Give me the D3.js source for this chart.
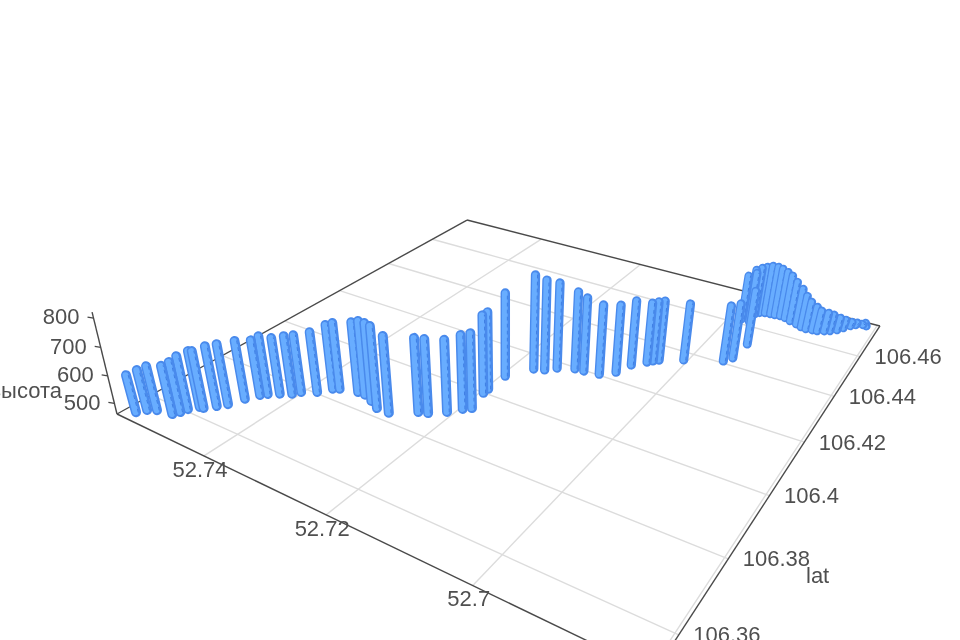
<!DOCTYPE html>
<html><head><meta charset="utf-8">
<script src="https://cdn.jsdelivr.net/npm/d3@7"></script>
<style>html,body{margin:0;background:#fff}svg{display:block}text{font-family:"Liberation Sans",Arial,sans-serif;fill:#505050}</style></head><body>
<svg id="c" width="960" height="640"></svg>
<script>
const lons=[52.7543,52.7535,52.7524,52.75,52.7495,52.7492,52.7483,52.7477,52.7466,52.7457,52.7448,52.7438,52.7431,
52.7418,52.7404,52.7397,52.7379,52.7367,52.7359,52.7333,52.7321,52.7304,52.7287,52.7267,52.7236,52.7224,
52.7205,52.7192,52.7183,52.7191,52.7191,52.719,52.7167,52.7153,52.7141,52.7119,52.7106,52.7084,52.7067,
52.7058,52.7043,52.7037,52.7031,52.7002,52.6954,52.6946,52.6978,52.6943,52.6965,52.6973,52.6967,52.6962,
52.6955,52.6947,52.694,52.6932,52.6924,52.6914,52.6903,52.6894,52.6886,52.6877,52.687,52.6861,52.6854,
52.6846,52.684,52.6833,52.6827,52.682,52.6816];
const lats=[106.3532,106.355,106.3561,106.3569,106.3583,106.3599,106.3618,106.362,106.364,106.3658,106.3692,106.372,
106.3732,106.3747,106.3761,106.3777,106.3796,106.3824,106.3832,106.3844,106.3844,106.3833,106.3819,106.3819,
106.3855,106.3863,106.3888,106.3915,106.3928,106.3989,106.4008,106.4072,106.4132,106.4142,106.4164,106.4183,
106.4186,106.4193,106.4221,106.4267,106.4298,106.431,106.4321,106.4352,106.4397,106.4422,106.4611,106.45,
106.4606,106.464,106.4653,106.4665,106.4672,106.4674,106.4675,106.4677,106.4674,106.4665,106.4658,106.465,
106.4647,106.465,106.4652,106.4661,106.4669,106.4683,106.4701,106.472,106.4733,106.4746,106.4756];
const heights=[617,628,642,656,663,674,685,688,699,700,694,684,695,688,695,692,703,718,725,738,751,763,774,755,746,745,739,746,750,765,
763,789,830,815,799,770,755,740,733,725,707,708,708,697,693,690,659,690,681,668,672,672,676,676,672,663,655,642,626,609,
593,577,565,557,549,533,517,501,493,481,472];
const lonTicks=[52.74,52.72,52.7];
const latTicks=[106.36,106.38,106.4,106.42,106.44,106.46];
const zTicks=[500,600,700,800];
const floorZ=460, topZ=820;

// camera: projective map of the unit box
const a=341.3,b=566.7,c=117,d=57.6,e=-91.9,f=414,g=-0.2992,h=0.4640,k=-0.0604,i=505*k,j=2000*k;
const lonS=d3.scaleLinear().domain([52.7566,52.6798]).range([0,1]);
const latS=d3.scaleLinear().domain([106.3513,106.4775]).range([0,1]);
const zS=d3.scaleLinear().domain([floorZ,topZ]).range([0,1]);
const lonD=lonS.domain(),latD=latS.domain();
function depth(lon,lat,z){return g*lonS(lon)+h*latS(lat)+1+k*zS(z);}
function proj(lon,lat,z){const u=lonS(lon),v=latS(lat),w=zS(z),q=depth(lon,lat,z);
  return [(a*u+b*v+c+i*w)/q,(d*u+e*v+f+j*w)/q];}

const svg=d3.select("#c");
const defs=svg.append("defs");
defs.append("filter").attr("id","soft").attr("x","-5%").attr("y","-5%").attr("width","110%").attr("height","110%")
  .append("feGaussianBlur").attr("stdDeviation",0.75);
const root=svg.append("g").attr("filter","url(#soft)");
const line=(p,q,col,w)=>root.append("line").attr("x1",p[0]).attr("y1",p[1]).attr("x2",q[0]).attr("y2",q[1]).attr("stroke",col).attr("stroke-width",w);

// grid
lonTicks.forEach(t=>line(proj(t,latD[0],floorZ),proj(t,latD[1],floorZ),"#dcdcdc",1.4));
latTicks.forEach(t=>line(proj(lonD[0],t,floorZ),proj(lonD[1],t,floorZ),"#dcdcdc",1.4));
line(proj(52.6802,latD[0],floorZ),proj(52.6802,latD[1],floorZ),"#dcdcdc",1.4);
// box edges
const A=proj(lonD[0],latD[0],floorZ),B=proj(lonD[0],latD[1],floorZ),C=proj(lonD[1],latD[1],floorZ),D=proj(lonD[1],latD[0],floorZ);
[[A,B],[B,C],[C,D],[D,A]].forEach(([p,q])=>line(p,q,"#4a4a4a",1.4));
const ztop=proj(lonD[0],latD[0],topZ);
line(A,ztop,"#4a4a4a",1.4);
// ticks and labels
const fs=22;
zTicks.forEach(t=>{const p=proj(lonD[0],latD[0],t);
  line(p,[p[0]-6,p[1]-1],"#4a4a4a",1.2);
  root.append("text").attr("x",p[0]-14).attr("y",p[1]-1.5).attr("dy","0.36em").attr("text-anchor","end").attr("font-size",fs).text(t);});
lonTicks.forEach(t=>{const p=proj(t,latD[0],floorZ);
  root.append("text").attr("x",p[0]-4).attr("y",p[1]+13).attr("dy","0.36em").attr("text-anchor","middle").attr("font-size",fs).text(t);});
latTicks.forEach(t=>{const p=proj(lonD[1],t,floorZ);
  root.append("text").attr("x",p[0]+14.5).attr("y",p[1]-0.5).attr("dy","0.36em").attr("text-anchor","start").attr("font-size",fs).text(t);});
root.append("text").attr("x",62).attr("y",390).attr("dy","0.36em").attr("text-anchor","end").attr("font-size",22).text("высота");
root.append("text").attr("x",806).attr("y",575.5).attr("dy","0.36em").attr("text-anchor","start").attr("font-size",22).text("lat");

// tubes, far to near
const bars=d3.range(lons.length).map(n=>({lon:lons[n],lat:lats[n],z:heights[n]}))
  .sort((p,q)=>depth(q.lon,q.lat,floorZ)-depth(p.lon,p.lat,floorZ));
const tube=root.append("g").attr("stroke-linecap","round");
bars.forEach(m=>{
  const p=proj(m.lon,m.lat,floorZ),q=proj(m.lon,m.lat,m.z);
  const wd=10/depth(m.lon,m.lat,floorZ);
  tube.append("line").attr("x1",p[0]).attr("y1",p[1]-3).attr("x2",q[0]).attr("y2",q[1]+3).attr("stroke","#4a8aec").attr("stroke-width",wd);
  tube.append("line").attr("x1",p[0]-0.5).attr("y1",p[1]-3).attr("x2",q[0]-0.5).attr("y2",q[1]+3).attr("stroke","#68adff").attr("stroke-width",wd*0.6);
  tube.append("line").attr("x1",p[0]+wd*0.22).attr("y1",p[1]-3).attr("x2",q[0]+wd*0.22).attr("y2",q[1]+3).attr("stroke","#3f7fe4").attr("stroke-width",1).attr("stroke-dasharray","3 4");
});
</script></body></html>
